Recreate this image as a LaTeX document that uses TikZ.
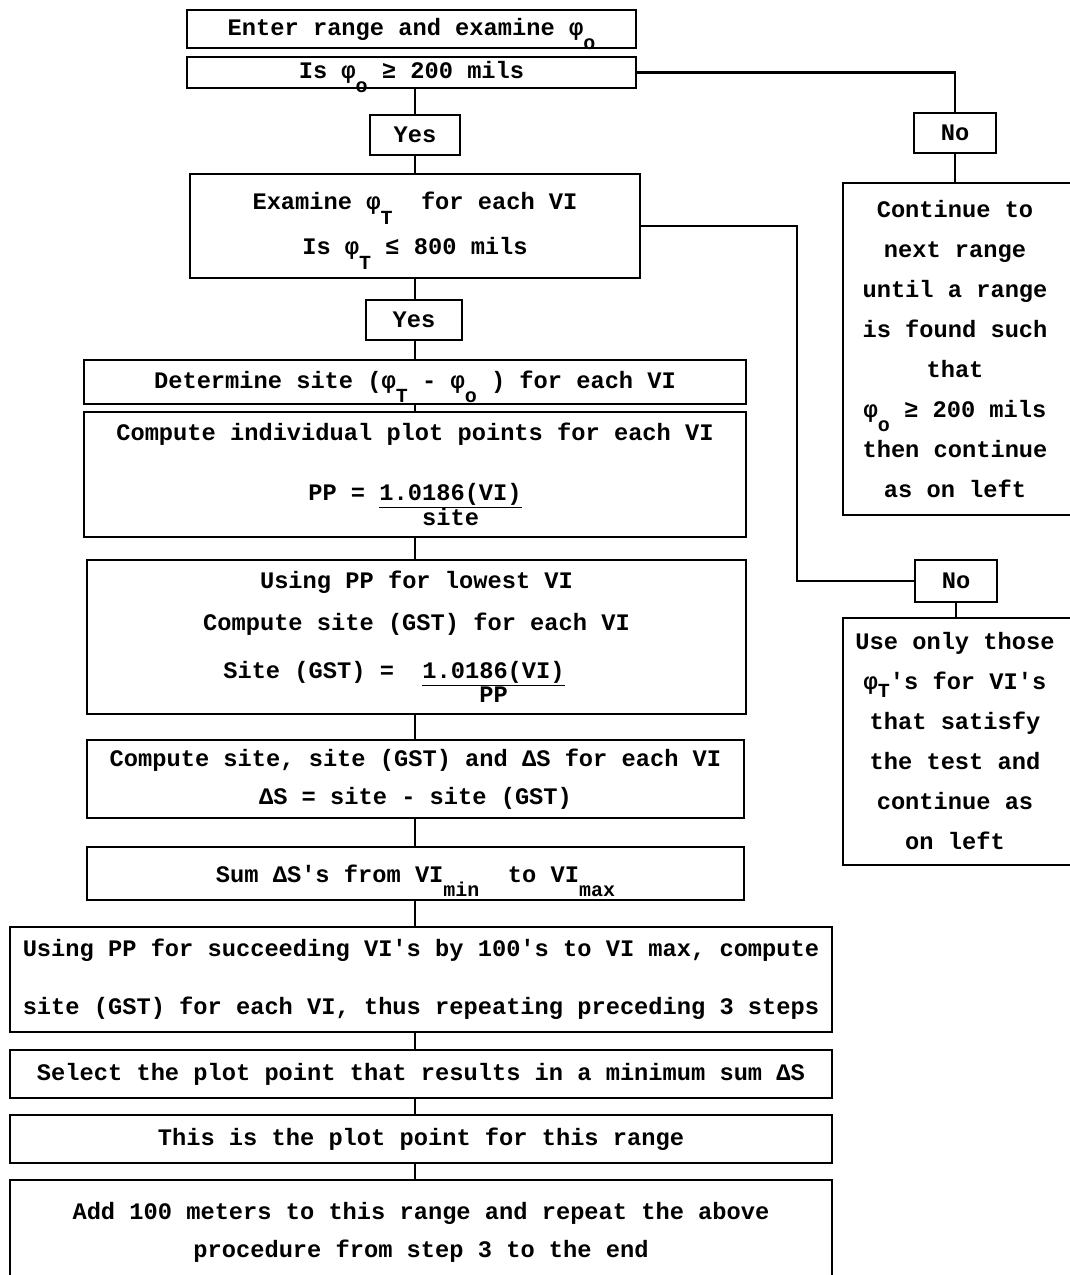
\documentclass[tikz,border=0pt]{standalone}
\usepackage{fontspec}
\setmainfont{Liberation Mono}[Ligatures=TeXOff]
\usetikzlibrary{calc}
\newcommand\sbs[2][-0.6em]{\raisebox{#1}[0pt][0pt]{\fontsize{20}{20}\selectfont #2}}
\newcommand\frc[2]{\vtop{\baselineskip=24pt\halign{\hfil##\hfil\cr\underline{#1}\cr#2\cr}}}
\begin{document}
\begin{tikzpicture}[x=1pt,y=-1pt,
  every node/.style={font=\bfseries\fontsize{23.7}{38}\selectfont},
  box/.style={draw, line width=2.3pt, inner sep=0pt, align=center},
  tbox/.style={inner sep=0pt, align=center},
  ln/.style={line width=2.3pt}]
\useasboundingbox (0,0) rectangle (1070,1275);
\clip (0,0) rectangle (1070,1275);
\fill[white] (0,0) rectangle (1070,1275);

% main column
\node[box, minimum width=449, minimum height=38] (b1) at (411.5,29) {Enter range and examine φ\sbs{o}};
\node[box, minimum width=449, minimum height=31] (b2) at (411.5,72.5) {Is φ\sbs{o} ≥ 200 mils};
\node[box, minimum width=90, minimum height=40] (yes1) at (415,135) {Yes};
\node[box, minimum width=450, minimum height=104] (b3) at (415,226) {Examine φ\sbs{T}~ for each VI\\[7pt]Is φ\sbs{T} ≤ 800 mils};
\node[box, minimum width=96, minimum height=40] (yes2) at (414,320) {Yes};
\node[box, minimum width=662, minimum height=44] (b4) at (415,382) {Determine site (φ\sbs{T} - φ\sbs{o} ) for each VI};
\node[box, minimum width=662, minimum height=125] (b5) at (415,474.5) {Compute individual plot points for each VI\\[22pt]PP = \frc{1.0186(VI)}{site}};
\node[box, minimum width=659, minimum height=154] (b6) at (416.5,637) {Using PP for lowest VI\\[4pt]Compute site (GST) for each VI\\[10pt]Site (GST) = ~\frc{1.0186(VI)}{PP}\hspace*{45pt}};
\node[box, minimum width=657, minimum height=78] (b7) at (415.5,779) {Compute site, site (GST) and ΔS for each VI\\ΔS = site - site (GST)};
\node[box, minimum width=657, minimum height=53] (b8) at (415.5,873.5) {Sum ΔS's from VI\sbs{min}~ to VI\sbs{max}};
\node[box, minimum width=822, minimum height=105] (b9) at (421,979.5) {Using PP for succeeding VI's by 100's to VI max, compute\\[20pt]site (GST) for each VI, thus repeating preceding 3 steps};
\node[box, minimum width=822, minimum height=48] (b10) at (421,1074) {Select the plot point that results in a minimum sum ΔS};
\node[box, minimum width=822, minimum height=48] (b11) at (421,1139) {This is the plot point for this range};
\node[tbox, minimum width=822, minimum height=104] (b12) at (421,1232) {Add 100 meters to this range and repeat the above\\procedure from step 3 to the end};
\draw[ln] ([yshift=-30pt]b12.south west) |- (b12.north east) -- ([yshift=-30pt]b12.south east);

% right column
\node[box, minimum width=82, minimum height=40] (no1) at (955,133) {No};
\node[tbox, minimum width=224, minimum height=332] (cont) at (955,349) {Continue to\\[2pt]next range\\[2pt]until a range\\[2pt]is found such\\[2pt]that\\[2pt]φ\sbs{o} ≥ 200 mils\\[2pt]then continue\\[2pt]as on left};
\draw[ln] ([xshift=30pt]cont.north east) -| (cont.south west) -- ([xshift=30pt]cont.south east);
\node[box, minimum width=82, minimum height=42] (no2) at (956,581) {No};
\node[tbox, minimum width=224, minimum height=247] (use) at (955,741.5) {Use only those\\[2pt]φ\sbs[-0.3em]{T}'s for VI's\\[2pt]that satisfy\\[2pt]the test and\\[2pt]continue as\\[2pt]on left};
\draw[ln] ([xshift=30pt]use.north east) -| (use.south west) -- ([xshift=30pt]use.south east);

% connectors
\coordinate (sp) at (415,0);
\coordinate (k1) at (797,581);
\draw[ln] (b2.south -| sp) -- (yes1.north -| sp);
\draw[ln] (yes1.south -| sp) -- (b3.north -| sp);
\draw[ln] (b3.south -| sp) -- (yes2.north -| sp);
\draw[ln] (yes2.south -| sp) -- (b4.north -| sp);
\draw[ln] (b4.south -| sp) -- (b5.north -| sp);
\draw[ln] (b5.south -| sp) -- (b6.north -| sp);
\draw[ln] (b6.south -| sp) -- (b7.north -| sp);
\draw[ln] (b7.south -| sp) -- (b8.north -| sp);
\draw[ln] (b8.south -| sp) -- (b9.north -| sp);
\draw[ln] (b9.south -| sp) -- (b10.north -| sp);
\draw[ln] (b10.south -| sp) -- (b11.north -| sp);
\draw[ln] (b11.south -| sp) -- (b12.north -| sp);
\draw[ln] (b2.east) -| (no1.north);
\draw[ln] (no1.south) -- (no1.south |- cont.north);
\draw[ln] (b3.east) -| (k1) -- (no2.west);
\draw[ln] (no2.south) -- (no2.south |- use.north);
\end{tikzpicture}
\end{document}
